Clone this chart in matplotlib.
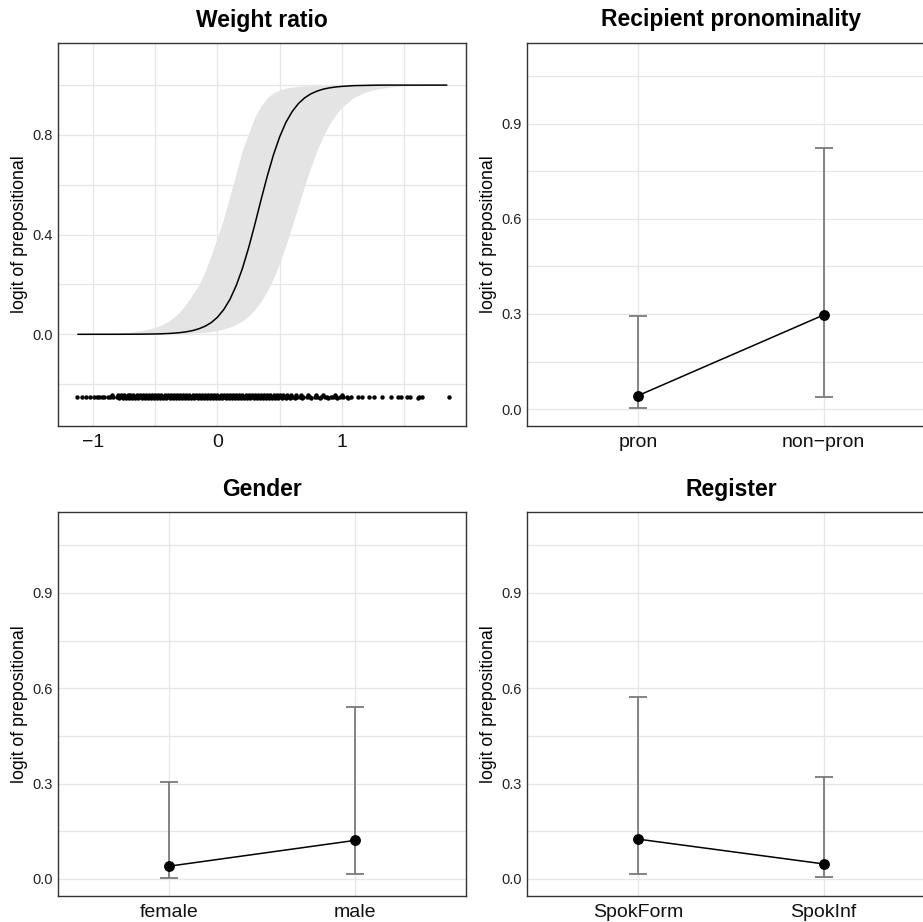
import matplotlib
matplotlib.use("Agg")
import matplotlib.pyplot as plt

plt.rcParams['font.family'] = ['Liberation Sans', 'DejaVu Sans']

# ---------------- data ----------------
# Panel 1: Weight ratio effect
wr_x = [-1.12, -0.9, -0.8, -0.7, -0.6, -0.55, -0.5, -0.45, -0.4, -0.35, -0.3, -0.25, -0.2,
        -0.15, -0.1, -0.05, 0.0, 0.05, 0.1, 0.15, 0.2, 0.25, 0.3, 0.35, 0.4, 0.45, 0.5, 0.55,
        0.6, 0.65, 0.7, 0.75, 0.8, 0.85, 0.9, 0.95, 1.0, 1.1, 1.2, 1.3, 1.4, 1.5, 1.6, 1.84]
wr_fit = [0.0, 0.0001, 0.0001, 0.0003, 0.0006, 0.001, 0.0014, 0.0021, 0.0031, 0.0046, 0.0068,
          0.0101, 0.0149, 0.0221, 0.0323, 0.047, 0.0686, 0.099, 0.140, 0.195, 0.264, 0.347,
          0.441, 0.540, 0.635, 0.721, 0.793, 0.851, 0.894, 0.926, 0.949, 0.965, 0.976, 0.984,
          0.989, 0.9926, 0.995, 0.998, 0.999, 1.0, 1.0, 1.0, 1.0, 1.0]
wr_upper = [0.001, 0.0032, 0.0055, 0.009, 0.016, 0.021, 0.028, 0.037, 0.050, 0.068, 0.092,
            0.122, 0.160, 0.198, 0.252, 0.318, 0.39, 0.465, 0.556, 0.646, 0.739, 0.808, 0.872,
            0.918, 0.950, 0.969, 0.981, 0.988, 0.992, 0.995, 0.997, 0.998, 0.999, 1.0, 1.0,
            1.0, 1.0, 1.0, 1.0, 1.0, 1.0, 1.0, 1.0, 1.0]
wr_lower = [0.0, 0.0, 0.0001, 0.0001, 0.0003, 0.0004, 0.0006, 0.0009, 0.0012, 0.0016, 0.0022,
            0.003, 0.0042, 0.0058, 0.008, 0.011, 0.0154, 0.021, 0.029, 0.040, 0.054, 0.073,
            0.099, 0.132, 0.174, 0.225, 0.287, 0.358, 0.435, 0.516, 0.596, 0.671, 0.739, 0.797,
            0.844, 0.881, 0.912, 0.952, 0.974, 0.986, 0.993, 0.996, 0.998, 1.0]

# rug of observed weight ratios (three rows: middle, upper, lower jitter)
rug_mid = [-1.13, -1.09, -1.06, -1.02, -0.99, -0.97, -0.95, -0.93, -0.91, -0.88, -0.86, -0.84,
           -0.81, -0.79, -0.77, -0.755, -0.73, -0.715, -0.69, -0.67, -0.655, -0.63, -0.61, -0.595,
           -0.57, -0.55, -0.535, -0.51, -0.49, -0.475, -0.45, -0.43, -0.415, -0.39, -0.37, -0.355,
           -0.33, -0.31, -0.295, -0.27, -0.25, -0.235, -0.21, -0.19, -0.175, -0.15, -0.13, -0.115,
           -0.09, -0.07, -0.055, -0.03, -0.01, 0.005, 0.03, 0.05, 0.065, 0.09, 0.11, 0.125, 0.15,
           0.17, 0.185, 0.21, 0.23, 0.245, 0.27, 0.29, 0.305, 0.33, 0.35, 0.365, 0.39, 0.41, 0.425,
           0.45, 0.47, 0.485, 0.51, 0.53, 0.545, 0.57, 0.59, 0.61, 0.635, 0.66, 0.69, 0.72, 0.745,
           0.78, 0.80, 0.83, 0.86, 0.88, 0.91, 0.93, 0.955, 0.98, 1.01, 1.04, 1.07, 1.13, 1.16,
           1.22, 1.26, 1.32, 1.39, 1.45, 1.47, 1.52, 1.55, 1.62, 1.64, 1.86]
rug_hi = [-0.845, -0.80, -0.775, -0.75, -0.72, -0.70, -0.675, -0.65, -0.625, -0.60, -0.575,
          -0.55, -0.525, -0.50, -0.475, -0.45, -0.425, -0.40, -0.375, -0.35, -0.325, -0.30,
          -0.275, -0.25, -0.225, -0.20, -0.175, -0.15, -0.125, -0.10, -0.075, -0.05, -0.025,
          0.0, 0.025, 0.05, 0.075, 0.10, 0.125, 0.15, 0.175, 0.20, 0.225, 0.25, 0.275, 0.30,
          0.325, 0.35, 0.375, 0.40, 0.425, 0.45, 0.475, 0.50, 0.53, 0.56, 0.59, 0.63, 0.67,
          0.73, 0.79, 0.85, 0.94, 1.0]
rug_lo = [-0.79, -0.76, -0.735, -0.71, -0.685, -0.66, -0.635, -0.61, -0.585, -0.56, -0.535,
          -0.51, -0.485, -0.46, -0.435, -0.41, -0.385, -0.36, -0.335, -0.31, -0.285, -0.26,
          -0.235, -0.21, -0.185, -0.16, -0.135, -0.11, -0.085, -0.06, -0.035, -0.01, 0.015,
          0.04, 0.065, 0.09, 0.115, 0.14, 0.165, 0.19, 0.215, 0.24, 0.265, 0.29, 0.315, 0.34,
          0.365, 0.39, 0.415, 0.44, 0.465, 0.49, 0.52, 0.55, 0.58, 0.62, 0.68, 0.75, 0.82,
          0.89, 0.96, 1.05, 1.61]
rug_level = -0.25

# Factor panels
titles = ["Recipient pronominality", "Gender", "Register"]
categories = [["pron", "non\u2212pron"], ["female", "male"], ["SpokForm", "SpokInf"]]
fits = [[0.043, 0.297], [0.040, 0.121], [0.125, 0.047]]
lowers = [[0.005, 0.037], [0.003, 0.0145], [0.0145, 0.005]]
uppers = [[0.294, 0.824], [0.304, 0.540], [0.571, 0.320]]

ylab = "logit of prepositional"

# ---------------- style ----------------
W, H = 923, 922
fig = plt.figure(figsize=(W / 100, H / 100), dpi=100)

grid_c = '#e6e6e6'
spine_c = '#333333'


def px_axes(left, top, right, bottom):
    return fig.add_axes([left / W, 1 - bottom / H, (right - left) / W, (bottom - top) / H])


def style(ax):
    ax.set_axisbelow(True)
    for s in ax.spines.values():
        s.set_color(spine_c)
        s.set_linewidth(1.0)
    ax.grid(True, which='both', color=grid_c, linewidth=0.9)
    ax.tick_params(which='both', length=0)
    ax.tick_params(axis='y', labelsize=10.5, pad=4, labelcolor='#222222')
    ax.tick_params(axis='x', labelsize=14, pad=6, labelcolor='#111111')


# Panel 1
ax1 = px_axes(58, 43, 466, 426)
style(ax1)
ax1.fill_between(wr_x, wr_lower, wr_upper, color='#e4e4e4', linewidth=0)
ax1.plot(wr_x, wr_fit, color='black', linewidth=1.1)
ms = 3.2
ax1.plot(rug_mid, [rug_level] * len(rug_mid), 'o', color='black', markersize=ms,
         markeredgewidth=0)
ax1.plot(rug_hi, [rug_level + 0.0065] * len(rug_hi), 'o', color='black', markersize=ms,
         markeredgewidth=0)
ax1.plot(rug_lo, [rug_level - 0.0065] * len(rug_lo), 'o', color='black', markersize=ms,
         markeredgewidth=0)
ax1.set_xlim(-1.281, 1.996)
ax1.set_ylim(-0.368, 1.169)
ax1.set_xticks([-1, 0, 1])
ax1.set_xticklabels(["\u22121", "0", "1"])
ax1.set_xticks([-0.5, 0.5, 1.5], minor=True)
ax1.set_yticks([0.0, 0.4, 0.8])
ax1.set_yticklabels(["0.0", "0.4", "0.8"])
ax1.set_yticks([-0.2, 0.2, 0.6, 1.0], minor=True)
ax1.set_title("Weight ratio", fontsize=16.5, fontweight='bold', pad=11.7)
fig.text(20 / W, 1 - 234.5 / H, ylab, rotation=90, ha='center', va='center', fontsize=12.8)

# Factor panels
boxes = [(527, 43, 935, 426), (58, 512.3, 466, 895.7), (527, 512.3, 935, 895.7)]
label_x = [488.3, 20, 488.3]
for i in range(3):
    l, t, r, b = boxes[i]
    ax = px_axes(l, t, r, b)
    style(ax)
    xs = [1, 2]
    yerr = [[fits[i][j] - lowers[i][j] for j in range(2)],
            [uppers[i][j] - fits[i][j] for j in range(2)]]
    ax.errorbar(xs, fits[i], yerr=yerr, fmt='none', ecolor='#7a7a7a', elinewidth=1.3,
                capsize=6.3, capthick=1.3, zorder=2)
    ax.plot(xs, fits[i], color='black', linewidth=1.1, zorder=3)
    ax.plot(xs, fits[i], 'o', color='black', markersize=6.8, zorder=4)
    ax.set_xlim(0.4, 2.6)
    ax.set_ylim(-0.053, 1.154)
    ax.set_xticks(xs)
    ax.set_xticklabels(categories[i])
    ax.set_yticks([0.0, 0.3, 0.6, 0.9])
    ax.set_yticklabels(["0.0", "0.3", "0.6", "0.9"])
    ax.set_yticks([0.15, 0.45, 0.75, 1.05], minor=True)
    ax.set_title(titles[i], fontsize=16.5, fontweight='bold', pad=12)
    fig.text(label_x[i] / W, 1 - (t + b) / 2 / H, ylab, rotation=90, ha='center',
             va='center', fontsize=12.8)

fig.savefig("out.png", dpi=100)
